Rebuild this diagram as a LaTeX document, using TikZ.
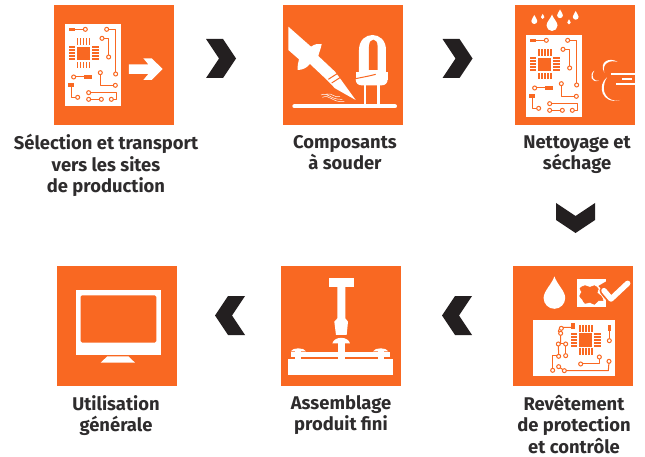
\documentclass[tikz,border=0pt]{standalone}
\usepackage{fontspec}
\setmainfont{Fira Sans}
\usetikzlibrary{calc}
\definecolor{brand}{HTML}{F96822}
\definecolor{ink}{HTML}{231F20}
\definecolor{labelink}{HTML}{2E2C2D}
\tikzset{
  sq/.style={fill=brand,minimum size=120pt,inner sep=0pt,outer sep=0pt},
  lab/.style={font=\fontsize{18.4}{21.2}\selectfont\bfseries,text=labelink,align=center,inner sep=0pt,anchor=north},
  track/.style={draw=brand,line width=1pt,line join=round},
  hole/.style={draw=brand,fill=white,line width=1pt},
  chev/.pic={\fill[ink] (-15,-19.5)--(2,-19.5)--(15,0)--(2,19.5)--(-15,19.5)--(-2,0)--cycle;}
}
\newcommand{\holeat}[2]{\draw[hole] (#1,#2) circle[radius=6];}
\newcommand{\firstline}{\rule{0pt}{14pt}}
\newcommand{\chipat}[2]{%
  \begin{scope}[shift={(#1,#2)}]
    \fill[brand] (-20,-20) rectangle (20,20);
    \foreach \p in {-18,-9,0,9,18}{
      \fill[brand] (\p-2.5,-45) rectangle (\p+2.5,-25);
      \fill[brand] (\p-2.5,25) rectangle (\p+2.5,45);
      \fill[brand] (-45,\p-2.5) rectangle (-25,\p+2.5);
      \fill[brand] (25,\p-2.5) rectangle (45,\p+2.5);
    }
  \end{scope}}
\newcommand{\boardat}[2]{%
  \begin{scope}[shift={(#1,#2)},x=0.3333pt,y=-0.3333pt]
    \fill[white] (75,72) rectangle (243,318);
    \chipat{131}{160}
    \fill[brand] (88,83) rectangle (106,93);
    \draw[track] (106,88)--(136,88);
    \draw[track] (200,88)--(227,88)--(227,222);
    \draw[track] (186,115)--(206,115)--(206,171);
    \draw[track] (101,231)--(133,231);
    \fill[brand] (133,226) rectangle (157,236);
    \fill[brand] (85,250) rectangle (103,260);
    \draw[track] (94,260)--(94,292)--(113,292);
    \draw[track] (181,218)--(181,256)--(226,256);
    \draw[track] (146,278)--(231,278)--(231,298)--(214,298);
    \draw[track] (146,298)--(184,298);
    \holeat{136}{88}\holeat{200}{88}\holeat{227}{222}\holeat{186}{115}\holeat{206}{171}
    \holeat{101}{231}\holeat{113}{292}\holeat{181}{218}\holeat{226}{256}
    \holeat{146}{278}\holeat{214}{298}\holeat{146}{298}\holeat{184}{298}
  \end{scope}}
\newcommand{\dropat}[3]{%
  \fill[white,shift={(#1,#2)},scale=#3]
    (0,-2) .. controls (.25,-1.25) and (1,-.65) .. (1,0)
    .. controls (1,.55) and (.55,1) .. (0,1)
    .. controls (-.55,1) and (-1,.55) .. (-1,0)
    .. controls (-1,-.65) and (-.25,-1.25) .. (0,-2) -- cycle;}
\begin{document}
\begin{tikzpicture}[x=1pt,y=-1pt]
\useasboundingbox (0,0) rectangle (645,457);
% squares
\node[sq] (s1) at (114,65) {};
\node[sq] (s2) at (343,65) {};
\node[sq] (s3) at (575,65) {};
\node[sq] (s4) at (573,326) {};
\node[sq] (s5) at (341,326) {};
\node[sq] (s6) at (117,326) {};
% chevrons
\pic at ($(s1.east)+(47,-6.5)$) {chev};
\pic at ($(s2.east)+(54.5,-6.5)$) {chev};
\pic[rotate=-90] at ($(s3.south)+(0.5,93)$) {chev};
\pic[rotate=180] at ($(s4.west)+(-56,-10.5)$) {chev};
\pic[rotate=180] at ($(s5.west)+(-51,-10.5)$) {chev};
% icon 1
\boardat{40}{0}
\begin{scope}[shift={(40,0)},x=0.3333pt,y=-0.3333pt]
  \fill[white] (267,193)--(325,193)--(310,175)--(335,175)--(368,207)--(335,240)--(310,240)--(325,222)--(267,222)--cycle;
\end{scope}
% icon 2
\begin{scope}[shift={(285,20)},x=0.3333pt,y=-0.3333pt]
  \draw[white,line width=4pt,line cap=round] (28,259)--(330,259);
  \fill[white] (10,20)--(78,80) .. controls (90,72) and (100,70) .. (110,72)
    .. controls (108,85) and (103,95) .. (100,108)
    --(150,155)--(165,175)--(212,240)--(150,205)--(128,182)--(75,132)
    .. controls (65,145) and (50,150) .. (38,150)
    .. controls (38,138) and (38,128) .. (42,118)--(10,90)--cycle;
  \draw[brand,line width=1pt] (130,178)--(158,160) (140,189)--(168,171);
  \draw[white,line width=.5pt] (108,225) .. controls (130,215) and (135,240) .. (172,238)
    (112,232) .. controls (135,222) and (140,248) .. (178,245)
    (125,222) .. controls (140,218) and (150,235) .. (165,230);
  % LED
  \fill[white] (222,158)--(222,90) .. controls (222,30) and (303,30) .. (303,90)--(303,158)--cycle;
  \fill[brand] (252,150)--(252,80) .. controls (252,52) and (278,52) .. (278,80)--(278,150)--cycle;
  \fill[white] (214,156) rectangle (308,180);
  \fill[white] (212,178) .. controls (212,190) and (220,196) .. (230,196)--(290,196) .. controls (300,196) and (308,190) .. (308,178)--cycle;
  \draw[brand,line width=1pt] (212,176) .. controls (230,172) and (255,168) .. (272,163);
  \draw[white,line width=2.7pt] (240,194)--(240,256) (280,194)--(280,256);
\end{scope}
% icon 3
\boardat{501}{11}
\dropat{534.3}{21}{3}
\dropat{542.7}{17.3}{1.7}
\dropat{552}{25.5}{5.5}
\dropat{560}{15.3}{2.9}
\dropat{569}{22.7}{1.7}
\dropat{575.7}{16.8}{2.9}
\begin{scope}[shift={(585,50)},x=0.3333pt,y=-0.3333pt]
  \fill[white] (98,36) .. controls (75,20) and (40,35) .. (58,68) .. controls (50,40) and (75,28) .. (98,36)--cycle;
  \fill[white] (66,82) .. controls (35,105) and (50,165) .. (105,150) .. controls (70,160) and (40,125) .. (66,82)--cycle;
  \fill[white] (28,62) .. controls (10,75) and (20,100) .. (42,92) .. controls (28,95) and (15,82) .. (28,62)--cycle;
  \fill[white] (78,68) rectangle (150,74);
  \fill[white] (110,85) rectangle (140,90);
  \fill[white] (92,100) rectangle (150,106);
\end{scope}
% icon 4
\dropat{554.4}{298}{10.8}
\begin{scope}[shift={(535,270)},x=0.3333pt,y=-0.3333pt]
  \fill[white] (127,27) rectangle (212,110);
  \fill[brand] (212,35)--(190,48)--(212,70)--(240,35)--cycle;
  \draw[brand,fill=brand,line width=.5pt] plot[smooth cycle,tension=.6] coordinates {(150,47)(165,52)(178,47)(190,57)(186,68)(198,78)(204,92)(190,92)(178,103)(165,97)(150,100)(142,88)(134,78)(140,66)(135,55)};
  \draw[brand,line width=9pt,line cap=round,line join=round] (207,62)--(228,87)--(278,40);
  \draw[white,line width=5.5pt,line cap=round,line join=round] (207,62)--(228,87)--(278,40);
\end{scope}
\begin{scope}[shift={(530,318)},x=0.3333pt,y=-0.3333pt]
  \fill[white] (9,6) rectangle (255,174);
  \chipat{167}{66}
  \fill[brand] (123,16) rectangle (134,33);
  \fill[brand] (233,20) rectangle (243,38);
  \draw[track] (123,28)--(90,28)--(85,40)--(92,46)--(92,78);
  \draw[track] (85,78)--(107,78);
  \draw[track] (85,78)--(86,115);
  \draw[track] (107,78)--(107,113);
  \draw[track] (86,112)--(68,112)--(68,157);
  \draw[track] (86,146)--(103,158)--(235,158)--(237,132);
  \draw[track] (152,138)--(208,138)--(208,117);
  \draw[track] (238,38)--(238,68);
  \holeat{94}{31}\holeat{92}{46}\holeat{85}{78}\holeat{107}{78}\holeat{86}{115}\holeat{107}{113}
  \holeat{68}{157}\holeat{86}{146}\holeat{103}{158}\holeat{152}{138}\holeat{208}{117}\holeat{237}{130}\holeat{238}{68}
\end{scope}
% icon 5
\begin{scope}[shift={(275,260)},x=0.3333pt,y=-0.3333pt]
  \fill[white] (161,53) rectangle (237,80);
  \fill[white] (187,80)--(211,80)--(211,175)--(219,185)--(215,225)--(183,225)--(178,185)--(187,175)--cycle;
  \fill[white] (172,250) .. controls (178,228) and (219,228) .. (225,250)--cycle;
  \fill[white] (189,250) rectangle (211,300);
  \fill[white] (47,276) rectangle (345,291);
  \fill[white] (38,297) rectangle (355,345);
  \foreach \c in {70,317}{
    \fill[brand] (\c-27,274) rectangle (\c+27,276);
    \fill[white] (\c-23,274) .. controls (\c-17,262) and (\c+17,262) .. (\c+23,274)--cycle;
    \fill[white] (\c-9,274) rectangle (\c+9,297);
  }
\end{scope}
% icon 6
\begin{scope}[shift={(50,260)},x=0.3333pt,y=-0.3333pt]
  \fill[white] (78,89) rectangle (332,284);
  \fill[brand,rounded corners=1.5pt] (92,106) rectangle (319,248);
  \fill[white] (152,308)--(172,289)--(235,289)--(255,308)--cycle;
\end{scope}
% labels
\node[lab] (l1) at (106,134.3) {\firstline Sélection et transport\\vers les sites\\de production};
\node[lab] (l2) at (345,134.3) {\firstline Composants\\à souder};
\node[lab] (l3) at (577,134.3) {\firstline Nettoyage et\\séchage};
\node[lab] (l4) at (574,395.3) {\firstline Revêtement\\de protection\\et contrôle};
\node[lab] (l5) at (341,395.3) {\firstline Assemblage\\produit fini};
\node[lab] (l6) at (116,395.3) {\firstline Utilisation\\générale};
\end{tikzpicture}
\end{document}
